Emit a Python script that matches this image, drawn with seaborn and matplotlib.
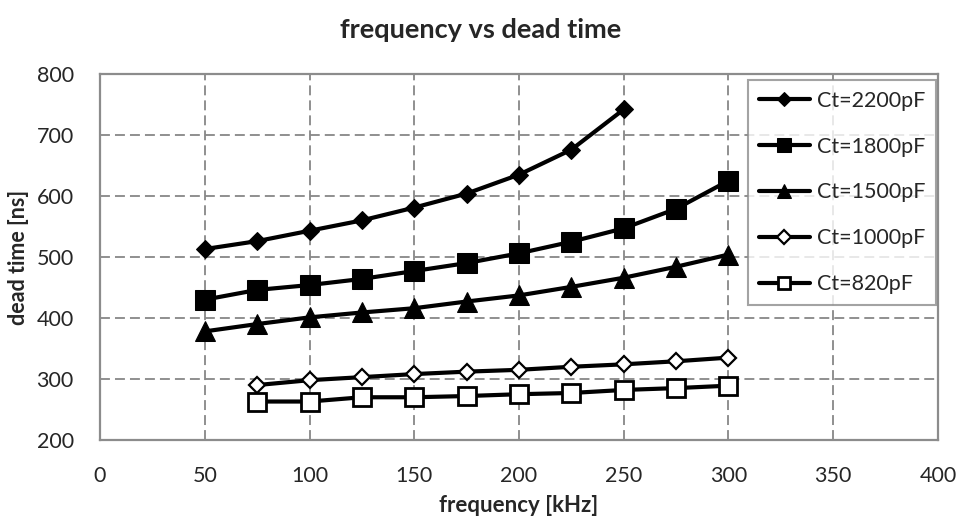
import matplotlib
matplotlib.use("Agg")
import matplotlib.pyplot as plt
import seaborn as sns
import pandas as pd

freq_2200 = [50, 75, 100, 125, 150, 175, 200, 225, 250]
dt_2200 = [513, 526, 543, 560, 581, 604, 635, 676, 742]
freq_1800 = [50, 75, 100, 125, 150, 175, 200, 225, 250, 275, 300]
dt_1800 = [430, 446, 454, 464, 477, 490, 506, 525, 547, 579, 625]
freq_1500 = [50, 75, 100, 125, 150, 175, 200, 225, 250, 275, 300]
dt_1500 = [378, 390, 401, 409, 416, 427, 437, 451, 466, 484, 504]
freq_1000 = [75, 100, 125, 150, 175, 200, 225, 250, 275, 300]
dt_1000 = [290, 298, 303, 308, 312, 315, 320, 324, 329, 335]
freq_820 = [75, 100, 125, 150, 175, 200, 225, 250, 275, 300]
dt_820 = [263, 263, 270, 270, 272, 275, 277, 282, 285, 289]
labels = ["Ct=2200pF", "Ct=1800pF", "Ct=1500pF", "Ct=1000pF", "Ct=820pF"]

sns.set_style("white")
plt.rcParams['font.family'] = ['Lato', 'DejaVu Sans']

fig = plt.figure(figsize=(9.62, 5.25), dpi=100)
ax = fig.add_axes([0.104, 0.162, 0.871, 0.697])

series = [
    (freq_2200, dt_2200, dict(marker="D", markersize=9, markerfacecolor="black"), 0.75),
    (freq_1800, dt_1800, dict(marker="s", markersize=14, markerfacecolor="black"), 0.7),
    (freq_1500, dt_1500, dict(marker="^", markersize=14.5, markerfacecolor="black"), 0.65),
    (freq_1000, dt_1000, dict(marker="D", markersize=8.5, markerfacecolor="white", markeredgewidth=1.6), 0.8),
    (freq_820, dt_820, dict(marker="s", markersize=13, markerfacecolor="white", markeredgewidth=2.0), 0.62),
]
leg_scale = []
for (x, y, st, sc), lab in zip(series, labels):
    df = pd.DataFrame({"x": x, "y": y})
    sns.lineplot(data=df, x="x", y="y", ax=ax, color="black", linewidth=3,
                 markeredgecolor="black", label=lab, **st)
    leg_scale.append(sc)

ax.set_xlim(0, 400)
ax.set_ylim(200, 800)
ax.set_xticks(range(0, 401, 50))
ax.set_yticks(range(200, 801, 100))
ax.grid(True, color="#878787", linestyle=(0, (5.5, 2.8)), linewidth=1.3)
for s in ax.spines.values():
    s.set_color("#8c8c8c")
    s.set_linewidth(1.6)
ax.tick_params(axis="y", labelsize=15.5, length=0, pad=19)
ax.tick_params(axis="x", labelsize=15.5, length=0, pad=19)
ax.set_xlabel("frequency [kHz]", fontsize=16, fontweight="bold")
ax.set_ylabel("dead time [ns]", fontsize=15.5, fontweight="bold")
ax.xaxis.set_label_coords(0.5, -(506 - 440) / (0.697 * 525))
ax.yaxis.set_label_coords(-(100 - 18) / (0.871 * 962), 0.5)
for lbl in (ax.xaxis.label, ax.yaxis.label):
    lbl.set_verticalalignment("center")
fig.text(0.5, 1 - 30 / 525, "frequency vs dead time", fontsize=19.5, fontweight="bold",
         ha="center", va="center")

leg = ax.legend(loc="upper right", bbox_to_anchor=(936 / 962, 1 - 80 / 525),
                bbox_transform=fig.transFigure, fontsize=15.5,
                frameon=True, fancybox=False, handlelength=2.4, labelspacing=1.2,
                borderpad=0.5, handletextpad=0.3, borderaxespad=0)
leg.get_frame().set_edgecolor("#8c8c8c")
leg.get_frame().set_linewidth(1.5)
for h, sc in zip(leg.legend_handles, leg_scale):
    h.set_markersize(h.get_markersize() * sc)

fig.savefig("out.png", dpi=100)
